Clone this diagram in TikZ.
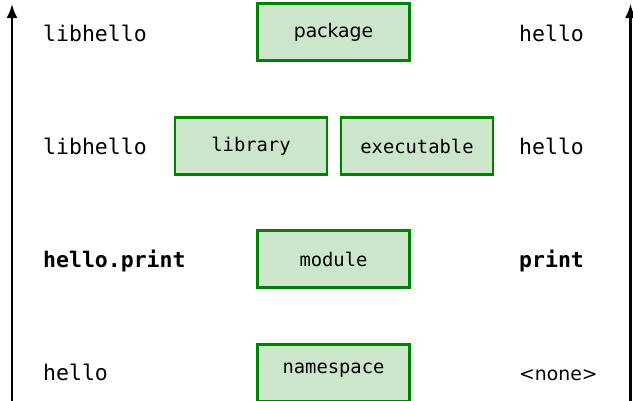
\documentclass[tikz,border=0pt]{standalone}
\usepackage{fontspec}
\setmainfont{DejaVu Sans}
\setmonofont{DejaVu Sans Mono}
\usetikzlibrary{arrows.meta}

\definecolor{boxfill}{RGB}{204,230,204}
\definecolor{boxline}{RGB}{0,128,0}

\tikzset{
  kind/.style={draw=boxline, fill=boxfill, line width=2.4pt,
    minimum width=152pt, minimum height=57pt, inner sep=0pt,
    font=\fontsize{18.8pt}{20pt}\selectfont\ttfamily},
  sidetext/.style={anchor=base west, inner sep=0pt,
    font=\fontsize{21.5pt}{24pt}\selectfont\ttfamily},
  axis/.style={line width=2.2pt, -{Latex[length=14pt,width=11pt]}}
}

\begin{document}
\begin{tikzpicture}[x=1pt, y=-1pt]
  \useasboundingbox (0,0) rectangle (633,400);
  \clip (0,0) rectangle (633,400);

  % side axes
  \coordinate (lbot) at (12,402);
  \coordinate (ltop) at (12,4);
  \coordinate (rbot) at (630.5,402);
  \coordinate (rtop) at (630.5,4);
  \draw[axis] (lbot) -- (ltop);
  \draw[axis] (rbot) -- (rtop);

  % central boxes
  \node[kind, font=\fontsize{18.8pt}{20pt}\selectfont\rmfamily] (pkg) at (333.5,32) {package};
  \node[kind] (lib) at (251,146) {library};
  \node[kind] (exe) at (417,146) {executable};
  \node[kind] (mod) at (333.5,259) {module};
  \node[kind, text height=10pt, text depth=10pt] (nsp) at (333.5,373) {namespace};

  % left column
  \node[sidetext] (l1) at (43,41) {libhello};
  \node[sidetext] (l2) at (43,154) {libhello};
  \node[sidetext, font=\fontsize{21.5pt}{24pt}\selectfont\ttfamily\bfseries] (l3) at (43,267) {hello.print};
  \node[sidetext] (l4) at (43,380) {hello};

  % right column
  \node[sidetext] (r1) at (519,41) {hello};
  \node[sidetext] (r2) at (519,154) {hello};
  \node[sidetext, font=\fontsize{21.5pt}{24pt}\selectfont\ttfamily\bfseries] (r3) at (519,267) {print};
  \node[sidetext, font=\fontsize{18.8pt}{21pt}\selectfont\rmfamily] (r4) at (519,380) {<none>};
\end{tikzpicture}
\end{document}
